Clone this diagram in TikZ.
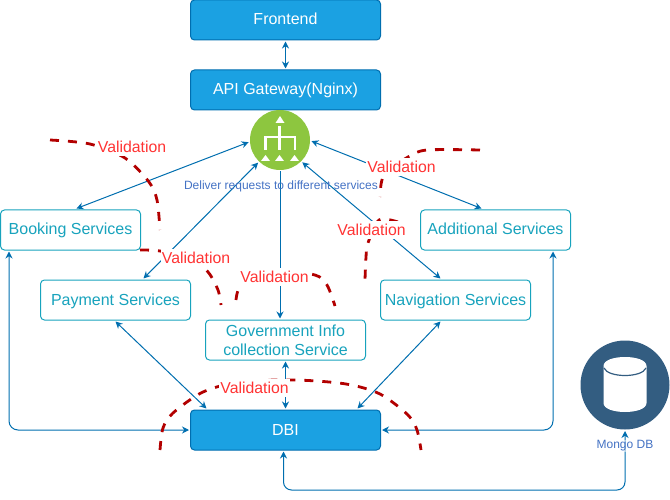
\documentclass[tikz,border=0pt]{standalone}
\usepackage{xcolor}
\usepackage{fontspec}
\setmainfont{Liberation Sans}
\usepackage{tikz}
\usetikzlibrary{arrows.meta}
\definecolor{boxblue}{HTML}{1BA1E2}
\definecolor{edgeblue}{HTML}{006EAF}
\definecolor{svcteal}{HTML}{18A3BD}
\definecolor{hubgreen}{HTML}{8DC63F}
\definecolor{mongoblue}{HTML}{335D81}
\definecolor{dashred}{HTML}{B20000}
\definecolor{valred}{HTML}{FF3333}
\definecolor{noteblue}{HTML}{4472C4}
\tikzset{
    mainbox/.style={draw=edgeblue,line width=1pt,fill=boxblue,text=white,rounded corners=4pt,minimum width=190pt,minimum height=40pt,inner sep=0pt,outer sep=1.5pt,text height=11.5pt,text depth=1.5pt,font=\fontsize{16}{19}\selectfont},
    svcbox/.style={draw=svcteal,line width=1pt,fill=white,text=svcteal,rounded corners=4pt,minimum height=40pt,inner sep=0pt,outer sep=1.5pt,font=\fontsize{16}{19}\selectfont},
    link/.style={draw=edgeblue,line width=1pt,{Stealth[length=7pt,width=7pt]}-{Stealth[length=7pt,width=7pt]}},
    oneway/.style={draw=edgeblue,line width=1pt,-{Stealth[length=7pt,width=7pt]}},
    valdash/.style={draw=dashred,line width=2.8pt,dash pattern=on 9pt off 9pt},
    vallabel/.style={fill=white,text=valred,inner sep=1pt,minimum height=18pt,font=\fontsize{15.8}{17}\selectfont},
    notelabel/.style={text=noteblue,inner sep=0pt,font=\fontsize{12}{14}\selectfont}
}
\begin{document}
\begin{tikzpicture}[x=1pt,y=-1pt]
    \useasboundingbox (0,0) rectangle (670,500);
    % Boxes
    \node[mainbox] (frontend) at (285.5,20) {Frontend};
    \node[mainbox] (gateway) at (285.5,90) {API Gateway(Nginx)};
    \node[mainbox] (dbi) at (285.5,430) {DBI};
    \node[svcbox,minimum width=140pt,text height=11.5pt,text depth=1.5pt] (booking) at (70.5,230) {Booking Services};
    \node[svcbox,minimum width=150pt,text height=11.5pt,text depth=1.5pt] (payment) at (115.5,300) {Payment Services};
    \node[svcbox,minimum width=150pt,text height=11.5pt,text depth=1.5pt] (additional) at (495.5,230) {Additional Services};
    \node[svcbox,minimum width=150pt,text height=11.5pt,text depth=1.5pt] (navigation) at (455.5,300) {Navigation Services};
    \node[svcbox,minimum width=160pt,align=center] (government) at (285.5,340) {Government Info\\collection Service};
    % Router and database
    \node[circle,fill=hubgreen,minimum size=60pt,inner sep=0pt,outer sep=1.5pt] (hub) at (280,140) {};
    \node[circle,fill=mongoblue,minimum size=89pt,inner sep=0pt,outer sep=1.5pt] (mongo) at (625,385) {};
    % Router icon
    \fill[white] (280,116) -- (284.5,123) -- (275.5,123) -- cycle;
    \fill[white] (265.5,155) -- (270,161) -- (261,161) -- cycle;
    \fill[white] (279.5,155) -- (284,161) -- (275,161) -- cycle;
    \fill[white] (294.5,155) -- (299,161) -- (290,161) -- cycle;
    \draw[white,line width=2.5pt] (279.5,126) -- (279.5,150);
    \draw[white,line width=2.5pt] (265.5,150) -- (265.5,137) -- (295,137) -- (295,150);
    % Database icon
    \fill[white] (603.5,366) .. controls (603.5,354) and (646.5,354) .. (646.5,366) -- (646.5,403) .. controls (646.5,415) and (603.5,415) .. (603.5,403) -- cycle;
    \draw[mongoblue,line width=1.2pt] (604,368) .. controls (608,378) and (642,378) .. (646,368);
    % Connectors
    \draw[link] (frontend) -- (gateway);
    \draw[link] (hub.184) -- ([xshift=6pt]booking.north);
    \draw[link] (hub.226) -- ([xshift=28pt]payment.north);
    \draw[oneway] (hub.270) -- (government.north -| hub);
    \draw[link] (hub.315) -- ([xshift=-15pt]navigation.north);
    \draw[link] (hub.358) -- ([xshift=-14pt]additional.north);
    \draw[link] (payment.south) -- ([xshift=-79pt]dbi.north);
    \draw[link] ([xshift=-15pt]navigation.south) -- ([xshift=72pt]dbi.north);
    \draw[link] (government) -- (dbi);
    \draw[link,rounded corners=9pt] ([xshift=10pt]booking.south west) |- (dbi.west);
    \draw[link,rounded corners=9pt] ([xshift=-19pt]additional.south east) |- (dbi.east);
    \coordinate (mongobus) at (625,490);
    \draw[link,rounded corners=8pt] ([xshift=-2pt]dbi.south) |- (mongobus) -- (mongo.south);
    % Validation boundaries
    \draw[valdash] plot[smooth] coordinates {(50,140) (90,144) (125,158) (149,182) (157,200) (160,230)};
    \draw[valdash] plot[smooth] coordinates {(140,250) (160,251) (190,258) (208,272) (218,290) (221,305)};
    \draw[valdash] plot[smooth] coordinates {(236,300) (243,283) (280,272) (315,275) (327,285) (335,306)};
    \draw[valdash] plot[smooth] coordinates {(480,150) (427,150) (408,157) (384,175) (380,197)};
    \draw[valdash] plot[smooth] coordinates {(398,222) (379,220) (368,243) (366,257) (365,280)};
    \draw[valdash] plot[smooth] coordinates {(160,450) (163,428) (173,413) (203,392) (240,382) (295,380) (346,384) (380,394) (408,415) (417,430) (421,450)};
    % Labels
    \node[vallabel] (valbooking) at (132,147) {Validation};
    \node[vallabel] (valpayment) at (196,258) {Validation};
    \node[vallabel] (valgovernment) at (274.5,277) {Validation};
    \node[vallabel] (valadditional) at (401.5,167) {Validation};
    \node[vallabel] (valnavigation) at (371.5,230) {Validation};
    \node[vallabel] (valdbi) at (254.5,388) {Validation};
    \node[notelabel] (deliver) at (281,186.5) {Deliver requests to different services};
    \node[notelabel,fill=white,fill opacity=0.5,text opacity=1,inner sep=1pt] (mongolabel) at (625,446) {Mongo DB};
\end{tikzpicture}
\end{document}
